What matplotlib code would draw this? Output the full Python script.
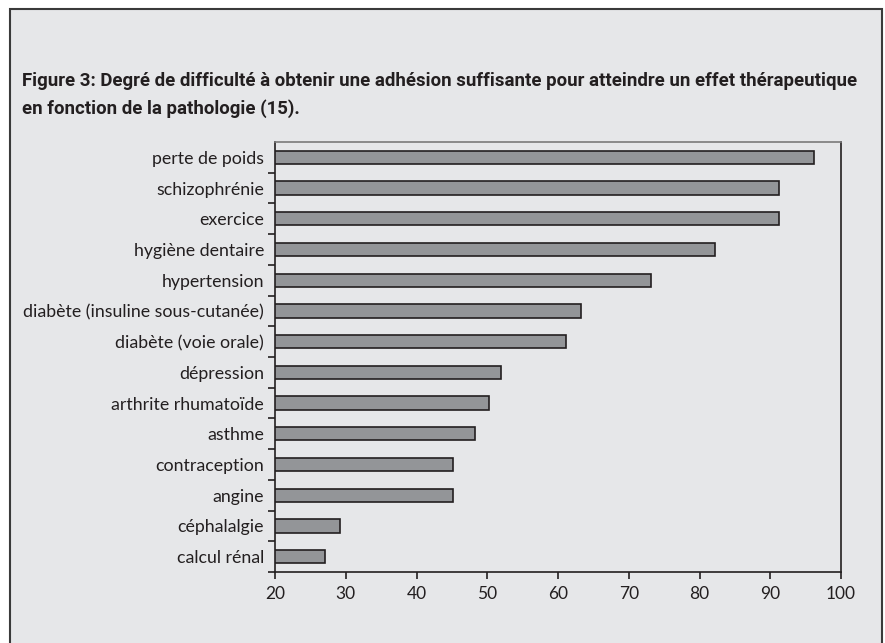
import numpy as np
import matplotlib.pyplot as plt
from matplotlib.patches import Rectangle

# categories, top to bottom
categories = ['perte de poids', 'schizophrénie', 'exercice', 'hygiène dentaire',
              'hypertension', 'diabète (insuline sous-cutanée)', 'diabète (voie orale)',
              'dépression', 'arthrite rhumatoïde', 'asthme', 'contraception',
              'angine', 'céphalalgie', 'calcul rénal']
values = [96.2, 91.2, 91.2, 82.2, 73.2, 63.3, 61.1, 52.0, 50.2, 48.3, 45.1, 45.1, 29.2, 27.1]
x_ticks = [20, 30, 40, 50, 60, 70, 80, 90, 100]

title = ("Figure 3: Degré de difficulté à obtenir une adhésion suffisante pour atteindre un effet thérapeutique\n"
         "en fonction de la pathologie (15).")

bg = '#e6e7e9'
dark = '#231f20'

plt.rcParams['font.family'] = ['Lato', 'DejaVu Sans']

fig = plt.figure(figsize=(8.85, 6.43), dpi=100)
fig.patch.set_facecolor('white')

# outer frame, behind the axes
fig.patches.append(Rectangle((10 / 885, -0.05), (882 - 10) / 885, 1.05 - 9 / 643,
                             transform=fig.transFigure, facecolor=bg,
                             edgecolor='#3a3a3a', linewidth=1.5, zorder=-5))

fig.text(22 / 885, 1 - 72 / 643, title, ha='left', va='top', fontsize=13.4,
         fontweight='bold', color=dark, linespacing=1.6,
         family=['Roboto', 'DejaVu Sans'])

ax = fig.add_axes([275 / 885, 1 - 572 / 643, (841 - 275) / 885, (572 - 142) / 643])
ax.set_facecolor(bg)

n = len(categories)
y = np.arange(n)
ax.barh(y, values, height=0.43, color='#939598', edgecolor=dark, linewidth=1.2)

ax.set_xlim(20, 100)
ax.set_ylim(n - 0.5, -0.5)
ax.set_xticks(x_ticks)
ax.set_yticks(y)
ax.set_yticklabels(categories)
# separator ticks between categories (none at the very top)
ax.set_yticks(np.arange(1, n + 1) - 0.5, minor=True)
ax.tick_params(axis='y', which='major', length=0, pad=8, labelsize=12.8, labelcolor=dark)
ax.tick_params(axis='y', which='minor', length=5, width=1.2, color=dark)
ax.tick_params(axis='x', length=5, width=1.2, color=dark, pad=5, labelsize=12.5, labelcolor=dark)

for side in ['left', 'bottom', 'right']:
    ax.spines[side].set_color(dark)
    ax.spines[side].set_linewidth(1.2)
ax.spines['top'].set_color('#7a7a7a')
ax.spines['top'].set_linewidth(1.2)

fig.savefig('out.png', dpi=100, facecolor='white')
